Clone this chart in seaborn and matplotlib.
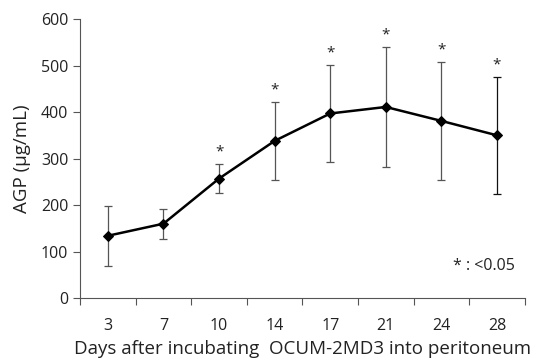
import numpy as np
import pandas as pd
import matplotlib
matplotlib.use("Agg")
import matplotlib.pyplot as plt
import seaborn as sns

days = ["3", "7", "10", "14", "17", "21", "24", "28"]
agp_mean = [134, 160, 257, 338, 397, 411, 381, 350]
agp_sd = [64, 32, 31, 84, 105, 129, 126, 126]
significant = [False, False, True, True, True, True, True, True]
yticks = [0, 100, 200, 300, 400, 500, 600]

sns.set_theme(style="white")
plt.rcParams['font.family'] = ['Open Sans', 'DejaVu Sans']

df = pd.DataFrame({"day": days, "agp": agp_mean, "sd": agp_sd})

fig = plt.figure(figsize=(5.41, 3.6), dpi=100)
ax = fig.add_axes([0.148, 0.172, 0.822, 0.775])

pos = np.arange(len(days))
bar_colors = ["#555555"] * 7 + ["#111111"]
for i in range(len(days)):
    ax.errorbar(pos[i], agp_mean[i], yerr=agp_sd[i], fmt="none",
                ecolor=bar_colors[i], elinewidth=0.9, capsize=3, capthick=0.9, zorder=2)

sns.lineplot(data=df, x="day", y="agp", ax=ax, color="black", linewidth=1.8,
             marker="D", markersize=5, markeredgecolor="black", sort=False, zorder=3)

for i in range(len(days)):
    if significant[i]:
        ax.text(pos[i], agp_mean[i] + agp_sd[i] + 10, "*", ha="center", va="bottom",
                fontsize=11, color="#222222")

ax.text(0.978, 0.115, "* : <0.05", transform=ax.transAxes, ha="right", va="center",
        fontsize=11.5, color="#222222")

ax.set_xlim(-0.5, len(days) - 0.5)
ax.set_ylim(0, 600)
ax.set_yticks(yticks)
ax.set_xticks(pos)
ax.set_xticklabels(days)
ax.set_xticks(np.arange(len(days) + 1) - 0.5, minor=True)
ax.tick_params(axis="x", which="major", length=0, pad=14, labelsize=11.5, colors="#222222")
ax.tick_params(axis="x", which="minor", length=5, width=0.8, color="#555555", direction="out", bottom=True)
ax.tick_params(axis="y", which="major", length=5, width=0.8, color="#555555", direction="out",
               left=True, labelsize=11.5, labelcolor="#222222")
for s in ["top", "right"]:
    ax.spines[s].set_visible(False)
for s in ["left", "bottom"]:
    ax.spines[s].set_color("#555555")
    ax.spines[s].set_linewidth(0.8)

ax.set_xlabel("Days after incubating  OCUM-2MD3 into peritoneum", fontsize=13.5, color="#222222", labelpad=5)
ax.set_ylabel("AGP (\u03bcg/mL)", fontsize=13.5, color="#222222", labelpad=7)

fig.savefig("out.png", dpi=100)
